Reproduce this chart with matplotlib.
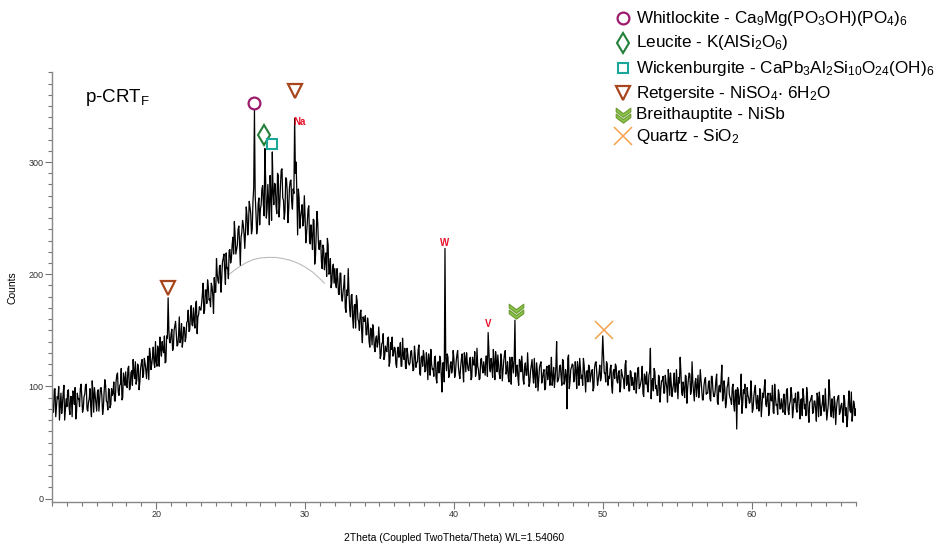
import numpy as np
import matplotlib
matplotlib.use("Agg")
from matplotlib import pyplot as plt
from matplotlib.path import Path
from matplotlib.ticker import MultipleLocator

plt.rcParams['font.family'] = ['Liberation Sans', 'DejaVu Sans']
plt.rcParams['mathtext.fontset'] = 'custom'
plt.rcParams['mathtext.rm'] = 'Liberation Sans'
plt.rcParams['mathtext.default'] = 'regular'

# scan grid, 0.05 deg steps from 13 to 67
two_theta = np.round(np.arange(13.0, 67.0001, 0.05), 2)

# counts at 13.0, 13.1, ... 67.0 (one row per degree)
counts_whole = [
    92, 77, 98, 82, 89, 70, 94, 84, 101, 79,
    82, 97, 75, 91, 96, 84, 71, 94, 89, 98,
    91, 80, 93, 102, 78, 89, 82, 105, 77, 92,
    78, 97, 88, 99, 75, 95, 101, 86, 98, 81,
    98, 94, 87, 104, 112, 92, 102, 88, 112, 101,
    100, 116, 97, 112, 101, 113, 122, 106, 118, 104,
    121, 108, 125, 115, 118, 106, 129, 120, 135, 117,
    122, 136, 118, 134, 140, 130, 121, 145, 179, 139,
    147, 132, 150, 158, 136, 145, 139, 156, 141, 152,
    144, 158, 149, 163, 155, 170, 152, 176, 162, 171,
    168, 182, 165, 186, 174, 189, 178, 192, 181, 197,
    184, 200, 192, 208, 196, 214, 203, 219, 206, 221,
    210, 226, 218, 235, 222, 240, 228, 233, 248, 236,
    238, 252, 244, 260, 236, 265, 346, 255, 242, 268,
    258, 276, 262, 312, 250, 280, 244, 271, 309, 262,
    280, 254, 288, 262, 293, 268, 249, 286, 274, 258,
    283, 265, 276, 339, 300, 235, 268, 251, 262, 246,
    252, 236, 258, 229, 244, 222, 248, 216, 256, 227,
    230, 211, 226, 204, 219, 232, 200, 214, 193, 209,
    205, 188, 196, 182, 201, 176, 190, 170, 186, 205,
    168, 181, 160, 172, 152, 176, 158, 165, 150, 162,
    158, 146, 161, 140, 152, 137, 149, 131, 145, 139,
    142, 128, 139, 124, 136, 131, 144, 122, 133, 127,
    135, 120, 131, 126, 139, 118, 128, 134, 116, 129,
    119, 131, 124, 115, 128, 121, 133, 112, 126, 118,
    127, 114, 122, 129, 110, 120, 116, 126, 108, 121,
    112, 123, 95, 121, 223, 114, 126, 110, 122, 116,
    125, 111, 128, 118, 107, 124, 115, 130, 113, 121,
    114, 126, 108, 120, 131, 112, 118, 106, 124, 117,
    122, 110, 127, 148, 116, 125, 108, 121, 131, 113,
    119, 107, 124, 114, 129, 111, 122, 104, 118, 126,
    112, 159, 118, 108, 124, 113, 119, 102, 121, 110,
    116, 104, 119, 111, 125, 99, 114, 107, 120, 103,
    112, 97, 115, 106, 119, 110, 101, 117, 108, 140,
    105, 118, 109, 124, 102, 115, 80, 128, 104, 117,
    119, 106, 114, 122, 101, 116, 110, 125, 107, 113,
    104, 118, 109, 115, 99, 121, 112, 106, 119, 108,
    145, 112, 104, 120, 109, 116, 100, 113, 107, 118,
    103, 114, 99, 111, 106, 119, 101, 110, 96, 113,
    108, 97, 112, 104, 117, 100, 107, 94, 111, 102,
    99, 110, 134, 104, 96, 113, 101, 92, 108, 97,
    105, 94, 110, 99, 115, 92, 103, 97, 112, 95,
    101, 108, 126, 95, 104, 90, 109, 98, 112, 93,
    122, 96, 104, 91, 110, 99, 106, 88, 101, 108,
    94, 103, 89, 109, 97, 91, 105, 86, 100, 95,
    119, 90, 98, 85, 102, 93, 88, 99, 84, 96,
    62, 97, 88, 111, 85, 94, 81, 99, 90, 86,
    93, 80, 97, 86, 92, 78, 95, 84, 90, 106,
    82, 94, 79, 88, 101, 76, 91, 84, 97, 80,
    89, 77, 93, 83, 98, 75, 87, 92, 79, 86,
    80, 95, 82, 88, 74, 91, 84, 99, 77, 86,
    90, 76, 87, 80, 94, 73, 86, 81, 92, 78,
    84, 77, 106, 79, 89, 72, 85, 80, 91, 75,
    83, 78, 92, 74, 64, 86, 79, 95, 76, 84,
    80,
]

# counts at 13.05, 13.15, ... 66.95
counts_half = [
    79, 97, 73, 91, 100, 82, 76, 94, 70, 89,
    96, 81, 91, 73, 94, 99, 78, 89, 82, 102,
    77, 91, 101, 80, 86, 98, 73, 94, 99, 84,
    95, 78, 98, 91, 81, 106, 87, 79, 97, 84,
    92, 104, 87, 110, 95, 101, 116, 90, 107, 113,
    99, 118, 98, 114, 124, 107, 102, 120, 97, 116,
    124, 111, 121, 107, 127, 134, 115, 126, 121, 140,
    118, 132, 144, 127, 133, 145, 122, 143, 150, 139,
    151, 134, 154, 147, 137, 162, 143, 135, 153, 140,
    157, 168, 150, 172, 154, 159, 174, 147, 164, 169,
    174, 192, 168, 186, 195, 177, 171, 189, 165, 184,
    214, 194, 207, 184, 211, 218, 191, 205, 196, 222,
    214, 233, 247, 218, 226, 243, 208, 237, 244, 223,
    260, 235, 265, 254, 240, 277, 270, 236, 263, 244,
    262, 279, 252, 285, 258, 265, 288, 248, 273, 281,
    261, 290, 251, 280, 294, 266, 256, 285, 246, 277,
    284, 258, 272, 290, 271, 276, 241, 256, 243, 270,
    228, 246, 261, 227, 234, 249, 209, 235, 246, 222,
    230, 205, 223, 213, 198, 226, 201, 188, 206, 192,
    192, 205, 182, 201, 180, 184, 199, 166, 181, 184,
    162, 182, 152, 173, 181, 160, 150, 168, 139, 158,
    163, 146, 155, 135, 151, 155, 135, 143, 135, 153,
    125, 138, 147, 127, 132, 143, 118, 139, 144, 129,
    134, 117, 135, 129, 118, 143, 124, 116, 134, 121,
    121, 132, 114, 136, 117, 122, 137, 110, 127, 132,
    113, 130, 106, 124, 133, 115, 109, 127, 103, 122,
    127, 110, 121, 104, 125, 129, 108, 119, 112, 132,
    108, 122, 132, 111, 117, 129, 104, 125, 130, 115,
    123, 106, 126, 119, 109, 134, 115, 107, 125, 112,
    116, 127, 109, 131, 113, 118, 133, 106, 123, 128,
    111, 129, 105, 123, 132, 114, 108, 126, 102, 121,
    124, 109, 119, 101, 122, 127, 106, 117, 110, 130,
    100, 114, 124, 103, 109, 121, 96, 117, 122, 107,
    115, 98, 118, 111, 101, 126, 107, 99, 117, 104,
    108, 119, 101, 123, 105, 110, 125, 98, 115, 120,
    104, 122, 98, 116, 125, 107, 101, 119, 95, 114,
    119, 104, 114, 96, 117, 122, 101, 112, 105, 125,
    128, 112, 122, 101, 107, 119, 94, 115, 120, 105,
    112, 95, 115, 108, 98, 123, 104, 96, 114, 101,
    101, 112, 94, 116, 98, 103, 118, 91, 108, 113,
    95, 113, 89, 107, 116, 98, 92, 110, 86, 105,
    109, 94, 104, 86, 107, 112, 91, 102, 95, 115,
    89, 103, 113, 92, 98, 110, 85, 106, 111, 96,
    104, 87, 107, 100, 90, 115, 96, 88, 106, 93,
    94, 105, 87, 109, 91, 96, 111, 84, 101, 106,
    87, 105, 81, 99, 108, 90, 84, 102, 78, 97,
    99, 84, 94, 76, 97, 102, 81, 92, 85, 105,
    77, 91, 101, 80, 86, 98, 73, 94, 99, 84,
    91, 74, 94, 87, 77, 102, 83, 75, 93, 80,
    82, 93, 75, 97, 79, 84, 99, 72, 89, 94,
    77, 95, 71, 89, 98, 80, 74, 92, 68, 87,
    92, 77, 87, 69, 90, 95, 74, 85, 78, 98,
    70, 84, 94, 73, 79, 91, 66, 87, 92, 77,
    85, 68, 88, 81, 71, 96, 77, 69, 87, 74,
]

counts = np.empty(len(two_theta))
counts[0::2] = counts_whole
counts[1::2] = counts_half

# amorphous hump fit (thin gray curve)
hump_x = [24.9, 25.5, 26.0, 26.5, 27.0, 27.5, 28.0, 28.5, 29.0, 29.5, 30.0, 30.5, 31.0, 31.3]
hump_y = [200, 206, 210, 213, 214.5, 215, 215, 214, 212.5, 210, 206.5, 202, 196, 192]

# phase markers: (2theta, counts)
whitlockite_pos = [(26.6, 353)]
leucite_pos = [(27.25, 324)]
wickenburgite_pos = [(27.8, 316)]
retgersite_pos = [(29.3, 363), (20.8, 188)]
breithauptite_pos = [(44.15, 167)]
quartz_pos = [(50.05, 150)]
element_labels = [("Na", 29.65, 336), ("W", 39.4, 228), ("V", 42.3, 156)]

legend_names = [
    "Whitlockite - Ca$_9$Mg(PO$_3$OH)(PO$_4$)$_6$",
    "Leucite - K(AlSi$_2$O$_6$)",
    "Wickenburgite - CaPb$_3$Al$_2$Si$_{10}$O$_{24}$(OH)$_6$",
    "Retgersite - NiSO$_4$$\\cdot$ 6H$_2$O",
    "Breithauptite - NiSb",
    "Quartz - SiO$_2$",
]

# double chevron marker for breithauptite
chevron = Path(
    [(-1, 1.0), (0, 0.25), (1, 1.0), (1, 0.5), (0, -0.25), (-1, 0.5), (-1, 1.0),
     (-1, 0.2), (0, -0.55), (1, 0.2), (1, -0.3), (0, -1.05), (-1, -0.3), (-1, 0.2)],
    [Path.MOVETO] + [Path.LINETO] * 5 + [Path.CLOSEPOLY] +
    [Path.MOVETO] + [Path.LINETO] * 5 + [Path.CLOSEPOLY])

styles = [
    dict(marker='o', ms=8.5, mfc='none', mec='#9C1A6C', mew=1.6),
    dict(marker='d', ms=10, mfc='none', mec='#23803A', mew=1.5),
    dict(marker='s', ms=7.5, mfc='none', mec='#1BA89B', mew=1.5),
    dict(marker='v', ms=10, mfc='none', mec='#A8461E', mew=1.6),
    dict(marker=chevron, ms=11, mfc='#8BC34A', mec='#6A9A2E', mew=0.8),
    dict(marker='x', ms=13, mfc='none', mec='#F4A24E', mew=1.1),
]

fig = plt.figure(figsize=(9.39, 5.46), dpi=100)
ax = fig.add_axes([0.0554, 0.0806, 0.856, 0.787])

ax.plot(hump_x, hump_y, color='#bbbbbb', lw=0.8, zorder=1)
ax.plot(two_theta, counts, color='black', lw=0.9, zorder=2)

for pos, st in zip([whitlockite_pos, leucite_pos, wickenburgite_pos,
                    retgersite_pos, breithauptite_pos, quartz_pos], styles):
    for x, y in pos:
        ax.plot([x], [y], linestyle='none', zorder=3, clip_on=False, **st)

for name, x, y in element_labels:
    ax.text(x, y, name, color='#E8102A', fontsize=7, fontweight='bold',
            ha='center', va='center')

ax.set_xlim(13, 67)
ax.set_ylim(-3, 380)
ax.xaxis.set_major_locator(MultipleLocator(10))
ax.xaxis.set_minor_locator(MultipleLocator(1))
ax.yaxis.set_major_locator(MultipleLocator(100))
ax.yaxis.set_minor_locator(MultipleLocator(10))
ax.set_yticks([0, 100, 200, 300])
ax.tick_params(which='major', length=5, width=0.8, color='#777777',
               labelsize=6.5, labelcolor='#333333', pad=1)
ax.tick_params(which='minor', length=3, width=0.8, color='#777777')

for s in ['top', 'right']:
    ax.spines[s].set_visible(False)
for s in ['left', 'bottom']:
    ax.spines[s].set_color('#888888')
    ax.spines[s].set_linewidth(1.0)

ax.set_ylabel("Counts", fontsize=7.5, labelpad=8)
fig.text(454 / 939, 1 - 538 / 546, "2Theta (Coupled TwoTheta/Theta) WL=1.54060",
         fontsize=7.5, ha='center', va='center')

fig.text(85 / 939, 1 - 98 / 546, "p-CRT$_F$", fontsize=13.5, va='center', ha='left')

# legend, top right
rows_y = [18, 43, 68, 93, 115, 136]
for name, st, py in zip(legend_names, styles, rows_y):
    ax.plot([623 / 939], [1 - py / 546], transform=fig.transFigure,
            linestyle='none', clip_on=False, **st)
    fig.text(636 / 939, 1 - py / 546, name, fontsize=12.3, va='center', ha='left')

fig.savefig("out.png", dpi=100)
